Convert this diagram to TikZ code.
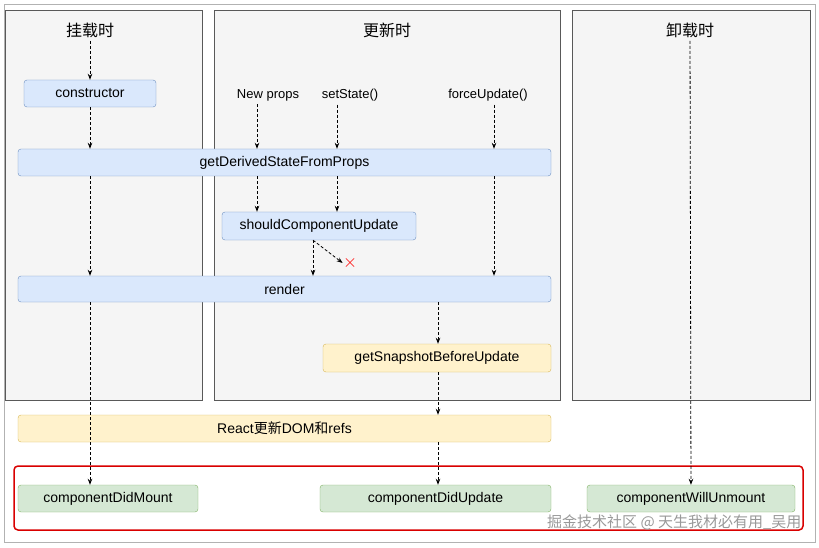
\documentclass[tikz,border=0pt]{standalone}
\usepackage{fontspec}
\setmainfont{Liberation Sans}
\newfontfamily\cjk{Noto Sans CJK SC}
\usetikzlibrary{arrows.meta}
\definecolor{panelgray}{HTML}{F5F5F5}
\definecolor{bluefill}{HTML}{DAE8FC}
\definecolor{blueline}{HTML}{6C8EBF}
\definecolor{yelfill}{HTML}{FFF2CC}
\definecolor{yelline}{HTML}{D6B656}
\definecolor{grnfill}{HTML}{D5E8D4}
\definecolor{grnline}{HTML}{82B366}
\tikzset{
  panel/.style={draw=gray!70!black, fill=panelgray, line width=0.8pt},
  step/.style={draw=#1, rounded corners=3pt, minimum height=27pt, font=\fontsize{14}{16}\selectfont, inner sep=1pt},
  blue/.style={step=blueline, fill=bluefill},
  yel/.style={step=yelline, fill=yelfill},
  grn/.style={step=grnline, fill=grnfill},
  flow/.style={densely dashed, line width=0.8pt, -{Stealth[length=6pt]}},
}
\begin{document}
\begin{tikzpicture}[x=1pt,y=-1pt]
  \useasboundingbox (0,0) rectangle (819,548);
  \draw[gray!60] (4,4) rectangle (815,542);
  % phases
  \draw[panel] (5,10) rectangle (202,400);
  \draw[panel] (214,10) rectangle (560,400);
  \draw[panel] (572,10) rectangle (810,400);
  \node (mount) at (90,30) {\cjk\fontsize{16}{18}\selectfont 挂载时};
  \node (update) at (387,30) {\cjk\fontsize{16}{18}\selectfont 更新时};
  \node (unmount) at (690,30) {\cjk\fontsize{16}{18}\selectfont 卸载时};
  \draw[red!85!black, line width=1.5pt, rounded corners=4pt] (14,466) rectangle (803,530);

  % steps
  \node[blue, minimum width=132pt] (ctor) at (90,93.5) {constructor};
  \node[blue, minimum width=533pt] (gdsfp) at (284.5,162.5) {getDerivedStateFromProps};
  \node[blue, minimum width=194pt, minimum height=28pt] (scu) at (319,226) {shouldComponentUpdate};
  \node[blue, minimum width=533pt, minimum height=26pt] (render) at (284.5,289) {render};
  \node[yel, minimum width=228pt, minimum height=28pt] (snap) at (437,358) {getSnapshotBeforeUpdate};
  \node[yel, minimum width=533pt] (dom) at (284.5,428.5) {React{\cjk 更新}DOM{\cjk 和}refs};
  \node[grn, minimum width=180pt] (didmount) at (108,498.5) {componentDidMount};
  \node[grn, minimum width=231pt] (didupdate) at (435.5,498.5) {componentDidUpdate};
  \node[grn, minimum width=208pt] (willunmount) at (691,498.5) {componentWillUnmount};

  \node[font=\fontsize{13}{15}\selectfont] (props) at (268,95) {New props};
  \node[font=\fontsize{13}{15}\selectfont] (state) at (350,95) {setState()};
  \node[font=\fontsize{13}{15}\selectfont] (force) at (488,95) {forceUpdate()};
  \node[red, scale=1.8, inner sep=0pt] (cross) at (350,263) {$\times$};

  % flow
  \draw[flow] (mount) -- (ctor);
  \draw[flow] (ctor) -- (gdsfp.north -| ctor);
  \draw[flow] (gdsfp.south -| ctor) -- (render.north -| ctor);
  \draw[flow] (render.south -| ctor) -- (didmount.north -| ctor);
  \draw[flow] (props.south -| 257,0) -- (gdsfp.north -| 257,0);
  \draw[flow] (state.south -| 337,0) -- (gdsfp.north -| 337,0);
  \draw[flow] (force.south -| 494,0) -- (gdsfp.north -| 494,0);
  \draw[flow] (gdsfp.south -| 257,0) -- (scu.north -| 257,0);
  \draw[flow] (gdsfp.south -| 337,0) -- (scu.north -| 337,0);
  \draw[flow] (gdsfp.south -| 494,0) -- (render.north -| 494,0);
  \draw[flow] (scu.south -| 313,0) -- (render.north -| 313,0);
  \draw[flow] (scu.south -| 313,0) -- (cross.west);
  \draw[flow] (render.south -| 438,0) -- (snap.north -| 438,0);
  \draw[flow] (snap.south -| 438,0) -- (dom.north -| 438,0);
  \draw[flow] (dom.south -| 438,0) -- (didupdate.north -| 438,0);
  \draw[flow] (unmount) -- (willunmount);

  \node[anchor=east, gray!80, font=\cjk\fontsize{15}{17}\selectfont] (mark) at (805,522) {掘金技术社区 @ 天生我材必有用\_吴用};
\end{tikzpicture}
\end{document}
